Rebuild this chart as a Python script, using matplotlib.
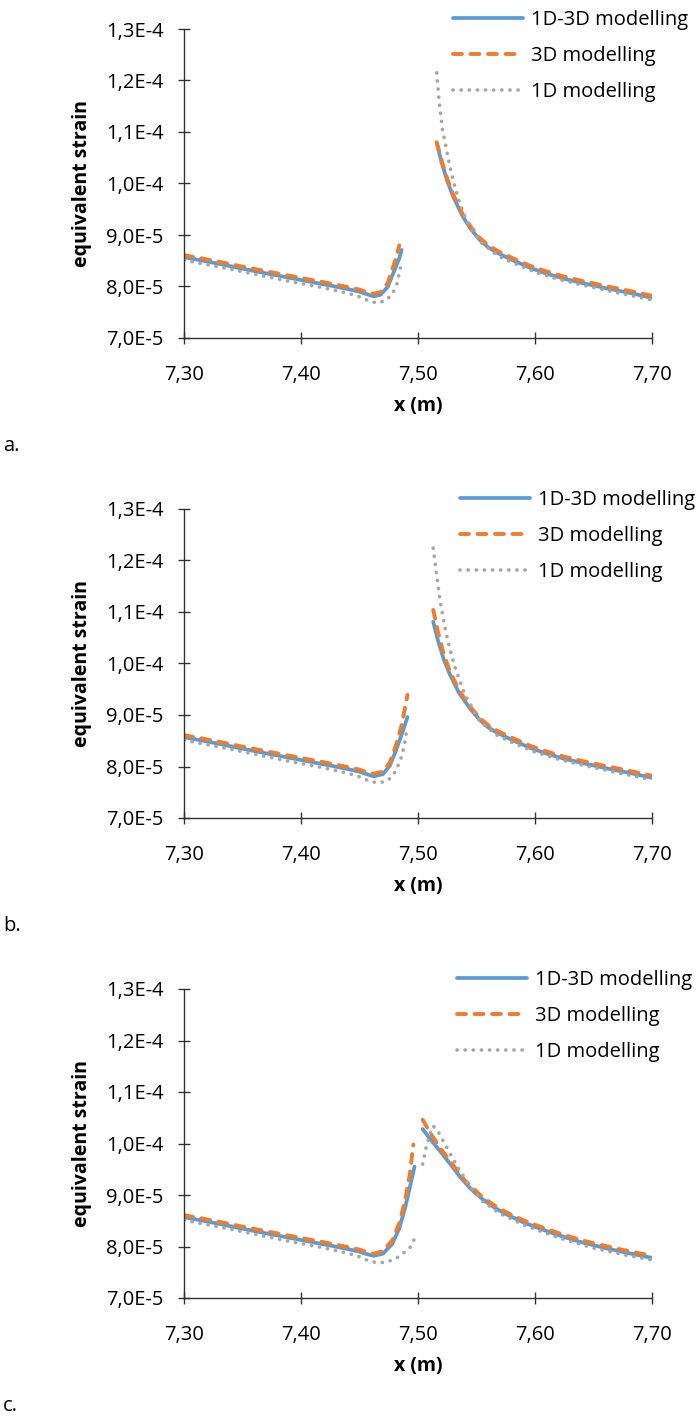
import numpy as np
import matplotlib.pyplot as plt
from matplotlib.ticker import FuncFormatter, MultipleLocator

plt.rcParams['font.family'] = ['Open Sans', 'DejaVu Sans']

# strain values are given in units of 1e-5
# straight part of the curves, shared by all three cases
lin_x = [7.30, 7.33, 7.36, 7.39, 7.42, 7.44]
lin_13 = [8.57, 8.44, 8.30, 8.17, 8.04, 7.95]
lin_3d = [8.61, 8.48, 8.34, 8.21, 8.08, 7.99]
lin_1d = [8.51, 8.38, 8.24, 8.10, 7.97, 7.87]

# case a
a_left_x_13 = [7.45, 7.455, 7.462, 7.468, 7.474, 7.480, 7.484, 7.486]
a_left_13 = [7.90, 7.86, 7.81, 7.84, 7.99, 8.32, 8.55, 8.71]
a_left_x_3d = [7.45, 7.455, 7.462, 7.468, 7.474, 7.479, 7.482, 7.484]
a_left_3d = [7.94, 7.90, 7.86, 7.89, 8.06, 8.40, 8.62, 8.80]
a_left_x_1d = [7.45, 7.458, 7.465, 7.472, 7.478, 7.482, 7.485]
a_left_1d = [7.80, 7.72, 7.68, 7.72, 7.85, 8.05, 8.36]
a_right_x = [7.516, 7.520, 7.525, 7.530, 7.538, 7.545, 7.553, 7.560, 7.568,
             7.580, 7.596, 7.610, 7.625, 7.64, 7.66, 7.68, 7.70]
a_right_13 = [10.79, 10.42, 10.05, 9.75, 9.37, 9.12, 8.90, 8.76, 8.65,
              8.52, 8.36, 8.25, 8.15, 8.07, 7.97, 7.88, 7.78]
a_right_3d = [10.80, 10.46, 10.09, 9.79, 9.41, 9.16, 8.94, 8.80, 8.69,
              8.56, 8.40, 8.29, 8.19, 8.11, 8.01, 7.92, 7.82]
a_right_x_1d = [7.516, 7.518, 7.521, 7.524, 7.527, 7.531, 7.536, 7.542, 7.553,
                7.568, 7.580, 7.600, 7.620, 7.640, 7.670, 7.700]
a_right_1d = [12.15, 11.60, 11.04, 10.70, 10.35, 9.98, 9.60, 9.25, 8.87,
              8.60, 8.47, 8.28, 8.14, 8.03, 7.88, 7.74]

# case b
b_left_x_13 = [7.45, 7.455, 7.462, 7.470, 7.476, 7.481, 7.486, 7.491]
b_left_13 = [7.90, 7.86, 7.81, 7.85, 8.02, 8.30, 8.62, 8.96]
b_left_x_3d = [7.45, 7.455, 7.462, 7.470, 7.476, 7.481, 7.486, 7.491]
b_left_3d = [7.94, 7.90, 7.86, 7.90, 8.08, 8.40, 8.80, 9.39]
b_left_x_1d = [7.45, 7.458, 7.466, 7.474, 7.480, 7.485, 7.488, 7.490]
b_left_1d = [7.80, 7.72, 7.68, 7.72, 7.88, 8.12, 8.38, 8.65]
b_right_x = [7.513, 7.517, 7.522, 7.527, 7.535, 7.545, 7.553, 7.560, 7.568,
             7.580, 7.596, 7.610, 7.625, 7.64, 7.66, 7.68, 7.70]
b_right_13 = [10.81, 10.45, 10.08, 9.80, 9.43, 9.11, 8.90, 8.76, 8.65,
              8.52, 8.36, 8.25, 8.15, 8.07, 7.97, 7.88, 7.78]
b_right_3d = [11.04, 10.62, 10.18, 9.86, 9.48, 9.15, 8.94, 8.80, 8.69,
              8.56, 8.40, 8.29, 8.19, 8.11, 8.01, 7.92, 7.82]
b_right_x_1d = [7.513, 7.516, 7.519, 7.523, 7.527, 7.532, 7.540, 7.553, 7.568,
                7.580, 7.600, 7.620, 7.640, 7.670, 7.700]
b_right_1d = [12.24, 11.70, 11.20, 10.70, 10.30, 9.90, 9.40, 8.87, 8.60,
              8.47, 8.28, 8.14, 8.03, 7.88, 7.74]

# case c
c_left_x_13 = [7.45, 7.455, 7.462, 7.470, 7.478, 7.484, 7.489, 7.493, 7.497]
c_left_13 = [7.90, 7.86, 7.82, 7.86, 8.05, 8.35, 8.75, 9.15, 9.55]
c_left_x_3d = [7.45, 7.455, 7.462, 7.470, 7.478, 7.484, 7.489, 7.493, 7.496]
c_left_3d = [7.94, 7.90, 7.86, 7.91, 8.12, 8.45, 8.90, 9.40, 9.98]
c_left_x_1d = [7.45, 7.458, 7.466, 7.474, 7.482, 7.489, 7.494, 7.497]
c_left_1d = [7.80, 7.72, 7.68, 7.70, 7.78, 7.90, 8.00, 8.15]
c_right_x_13 = [7.504, 7.510, 7.520, 7.530, 7.536, 7.545, 7.555, 7.565, 7.575,
                7.590, 7.605, 7.620, 7.640, 7.660, 7.680, 7.700]
c_right_13 = [10.28, 10.10, 9.82, 9.53, 9.35, 9.12, 8.92, 8.76, 8.63,
              8.47, 8.34, 8.22, 8.08, 7.97, 7.87, 7.78]
c_right_x_3d = [7.504, 7.510, 7.520, 7.530, 7.540, 7.555, 7.565, 7.575,
                7.590, 7.605, 7.620, 7.640, 7.660, 7.680, 7.700]
c_right_3d = [10.46, 10.22, 9.88, 9.58, 9.28, 8.96, 8.80, 8.67,
              8.51, 8.38, 8.26, 8.12, 8.01, 7.91, 7.82]
c_right_x_1d = [7.504, 7.507, 7.510, 7.513, 7.517, 7.522, 7.528, 7.535, 7.545,
                7.555, 7.570, 7.590, 7.620, 7.650, 7.680, 7.700]
c_right_1d = [9.60, 9.93, 10.18, 10.34, 10.24, 10.03, 9.78, 9.50, 9.15,
              8.88, 8.64, 8.42, 8.17, 7.97, 7.82, 7.74]

labels = ['1D-3D modelling', '3D modelling', '1D modelling']
panel_tags = ['a.', 'b.', 'c.']

cases = [
    [(a_left_x_13, a_left_13, a_right_x, a_right_13),
     (a_left_x_3d, a_left_3d, a_right_x, a_right_3d),
     (a_left_x_1d, a_left_1d, a_right_x_1d, a_right_1d)],
    [(b_left_x_13, b_left_13, b_right_x, b_right_13),
     (b_left_x_3d, b_left_3d, b_right_x, b_right_3d),
     (b_left_x_1d, b_left_1d, b_right_x_1d, b_right_1d)],
    [(c_left_x_13, c_left_13, c_right_x_13, c_right_13),
     (c_left_x_3d, c_left_3d, c_right_x_3d, c_right_3d),
     (c_left_x_1d, c_left_1d, c_right_x_1d, c_right_1d)],
]
linear = [lin_13, lin_3d, lin_1d]

styles = [
    dict(color='#5B9BD5', lw=2.7, ls='-', solid_capstyle='round'),
    dict(color='#ED7D31', lw=2.8, ls=(0, (2.3, 2.2)), dash_capstyle='round'),
    dict(color='#A5A5A5', lw=2.6, ls=(0, (0.05, 2.2)), dash_capstyle='round'),
]


def sci_comma(v, pos):
    mant, exp = f"{v:.1E}".split('E')
    return mant.replace('.', ',') + 'E' + str(int(exp))


W, H = 696, 1416
fig = plt.figure(figsize=(W / 100, H / 100), dpi=100)

ax_bottoms = [338, 818, 1298]
legend_x = [453, 460, 457]

for k, case in enumerate(cases):
    bot = ax_bottoms[k]
    ax = fig.add_axes([184 / W, 1 - bot / H, 468 / W, 309 / H])
    for j, (lx, ly, rx, ry) in enumerate(case):
        xs = lin_x + lx + [np.nan] + rx
        ys = linear[j] + ly + [np.nan] + ry
        ax.plot(xs, np.array(ys) * 1e-5, label=labels[j], **styles[j])

    ax.set_xlim(7.30, 7.70)
    ax.set_ylim(7e-5, 1.3e-4)
    ax.xaxis.set_major_locator(MultipleLocator(0.1))
    ax.yaxis.set_major_locator(MultipleLocator(1e-5))
    ax.xaxis.set_major_formatter(FuncFormatter(lambda v, p: f"{v:.2f}".replace('.', ',')))
    ax.yaxis.set_major_formatter(FuncFormatter(sci_comma))
    for s in ['top', 'right']:
        ax.spines[s].set_visible(False)
    for s in ['left', 'bottom']:
        ax.spines[s].set_linewidth(1.0)
        ax.spines[s].set_color('#333333')
    ax.tick_params(direction='inout', length=9, width=1.0, color='#333333',
                   labelsize=14.5, labelcolor='black')
    ax.tick_params(axis='y', pad=10)
    ax.tick_params(axis='x', pad=15)
    ax.set_xlabel('x (m)', fontsize=14, fontweight='bold', labelpad=8)
    ax.set_ylabel('equivalent strain', fontsize=14, fontweight='bold', labelpad=10)

    top = bot - 309
    ax.legend(loc='upper left', bbox_to_anchor=(legend_x[k] / W, 1 - (top - 19) / H),
              bbox_transform=fig.transFigure, frameon=False, fontsize=14.5,
              borderpad=0, borderaxespad=0, handlelength=3.5, handletextpad=0.35,
              labelspacing=0.8)

    fig.text(3 / W, 1 - (bot + 108) / H, panel_tags[k], fontsize=14.5, va='center', ha='left')

fig.savefig('out.png', dpi=100)
